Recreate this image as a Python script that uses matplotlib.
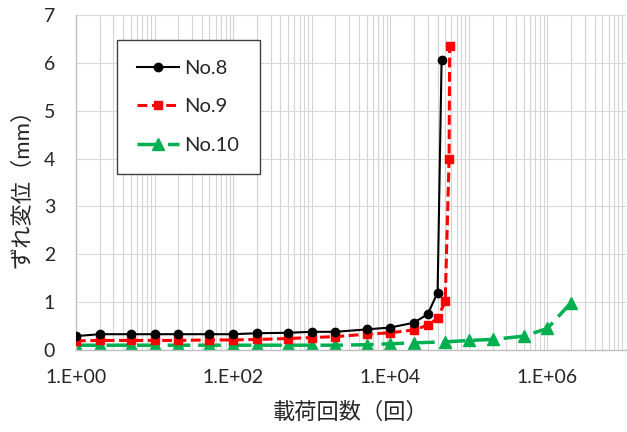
import math
import matplotlib
matplotlib.use("Agg")
import matplotlib.pyplot as plt
from matplotlib.ticker import FixedLocator, LogLocator, NullFormatter, FuncFormatter

# cycles (回) and slip displacement (mm) per specimen
n_no8 = [1, 2, 5, 10, 20, 50, 100, 200, 500, 1000, 2000, 5000, 10000, 20000, 30000, 40000, 45000]
d_no8 = [0.29, 0.33, 0.33, 0.33, 0.33, 0.33, 0.33, 0.35, 0.36, 0.38, 0.38, 0.43, 0.47, 0.57, 0.75, 1.20, 6.07]

n_no9 = [1, 2, 5, 10, 20, 50, 100, 200, 500, 1000, 2000, 5000, 10000, 20000, 30000, 40000, 50000, 56000, 57000]
d_no9 = [0.19, 0.20, 0.20, 0.20, 0.20, 0.21, 0.21, 0.22, 0.24, 0.26, 0.28, 0.33, 0.36, 0.42, 0.52, 0.66, 1.02, 3.99, 6.36]

n_no10 = [1, 2, 5, 10, 20, 50, 100, 200, 500, 1000, 2000, 5000, 10000, 20000, 50000,
          100000, 200000, 500000, 1000000, 2000000]
d_no10 = [0.10, 0.10, 0.10, 0.10, 0.10, 0.10, 0.10, 0.10, 0.10, 0.10, 0.10, 0.11, 0.13, 0.15, 0.17,
          0.20, 0.22, 0.29, 0.45, 0.99]

labels = ["No.8", "No.9", "No.10"]

plt.rcParams["font.family"] = ["Lato", "Noto Sans CJK JP", "DejaVu Sans"]

fig = plt.figure(figsize=(6.27, 4.32), dpi=100)
ax = fig.add_axes([76 / 627, 82 / 432, 550 / 627, 335 / 432])

ax.plot(n_no8, d_no8, color="black", lw=1.5, marker="o", ms=6, label=labels[0], zorder=4)
ax.plot(n_no9, d_no9, color="#ff0000", lw=2.2, ls=(0, (3.2, 1.5)), marker="s", ms=6,
        label=labels[1], zorder=3)
ax.plot(n_no10, d_no10, color="#00b050", lw=2.5, ls=(0, (6.5, 2.3)), marker="^", ms=8,
        label=labels[2], zorder=2)

ax.set_xscale("log")
ax.set_xlim(1, 1e7)
ax.set_ylim(0, 7)

ax.xaxis.set_major_locator(FixedLocator([1, 1e2, 1e4, 1e6]))
ax.xaxis.set_major_formatter(FuncFormatter(lambda v, p: "1.E+%02d" % round(math.log10(v))))
ax.xaxis.set_minor_locator(LogLocator(base=10, subs=range(1, 10), numticks=100))
ax.xaxis.set_minor_formatter(NullFormatter())
ax.set_yticks(range(0, 8))

ax.grid(True, which="both", axis="x", color="#d4d4d4", lw=0.8)
ax.grid(True, which="major", axis="y", color="#d9d9d9", lw=0.8)
ax.set_axisbelow(True)

for s in ["top", "right"]:
    ax.spines[s].set_visible(False)
for s in ["left", "bottom"]:
    ax.spines[s].set_color("#bfbfbf")
    ax.spines[s].set_linewidth(1.0)

ax.tick_params(which="both", length=0)
ax.tick_params(axis="x", labelsize=14, pad=14, colors="#262626")
ax.tick_params(axis="y", labelsize=14, pad=15, colors="#262626")

ax.set_xlabel("載荷回数（回）", fontsize=16, color="#262626", labelpad=11)
ax.set_ylabel("ずれ変位（mm）", fontsize=16, color="#262626", labelpad=8)

leg = ax.legend(loc="upper left", bbox_to_anchor=(117 / 627, 1 - 40 / 432),
                bbox_transform=fig.transFigure, fontsize=14.5, numpoints=1,
                handlelength=2.1, handletextpad=0.25, labelspacing=1.05,
                borderpad=1.0, borderaxespad=0, fancybox=False, framealpha=1)
leg.get_frame().set_edgecolor("#404040")
leg.get_frame().set_linewidth(1.0)
for t in leg.get_texts():
    t.set_color("#262626")

fig.savefig("out.png", dpi=100)
